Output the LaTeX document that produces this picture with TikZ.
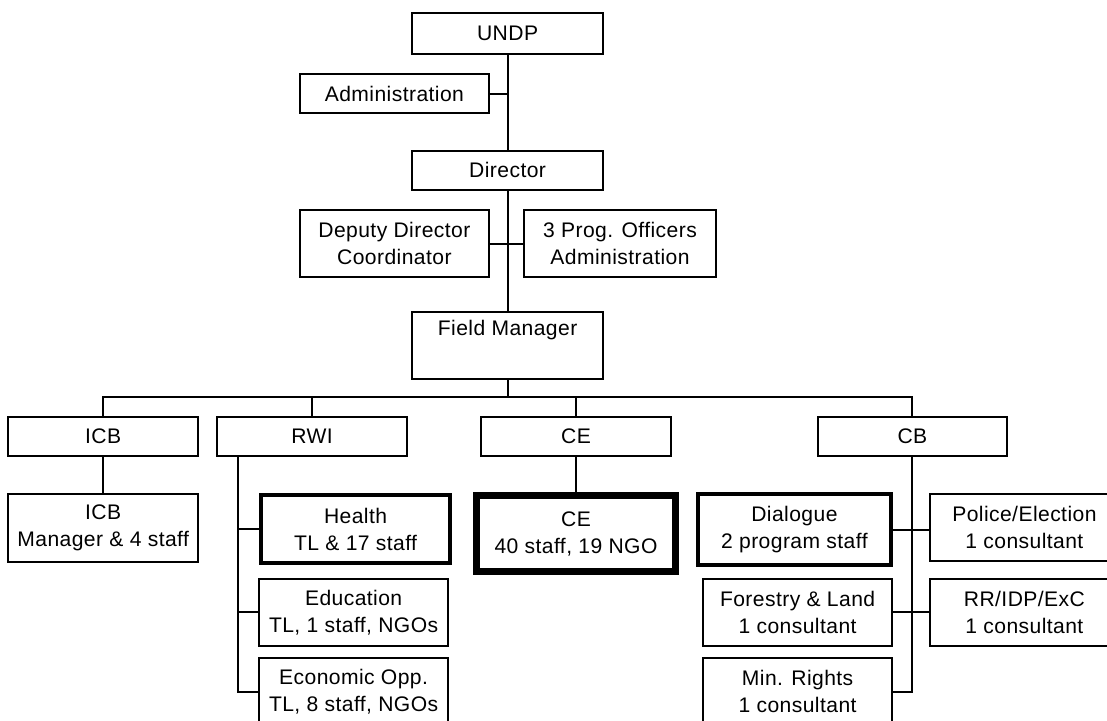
\documentclass[tikz,border=0pt]{standalone}
\usepackage{fontspec}
\setmainfont[LetterSpace=2]{Liberation Sans}
\usetikzlibrary{positioning, calc}

\tikzset{
  unit/.style={draw, line width=1.4pt, align=center, inner sep=0pt,
    minimum width=4.73cm, minimum height=0.98cm,
    font=\fontsize{15}{19.2}\selectfont},
  tallunit/.style={unit, minimum height=1.68cm},
  leadunit/.style={tallunit, line width=2.6pt, minimum height=1.7cm},
  link/.style={line width=1.4pt},
}

\begin{document}
\begin{tikzpicture}
  \useasboundingbox (0,0) rectangle (27.675,-18.025);
  \clip (0,0) rectangle (27.675,-18.025);

  % top of the chart
  \node[unit, minimum width=4.78cm, minimum height=1.03cm] (undp) at (12.69,-0.84) {UNDP};
  \node[unit] (admin) at (9.86,-2.34) {Administration};
  \node[unit, minimum width=4.78cm] (director) at (12.69,-4.26) {Director};
  \node[tallunit] (deputy) at (9.86,-6.09) {Deputy Director\\Coordinator};
  \node[tallunit, minimum width=4.8cm] (progoff) at (15.5,-6.09) {3 Prog. Officers\\Administration};
  \node[tallunit, minimum width=4.78cm] (field) at (12.69,-8.64) {Field Manager\\\strut};

  \coordinate (bus) at (0,-9.93);

  % programme units
  \node[unit, minimum width=4.75cm] (icb) at (2.58,-10.91) {ICB};
  \node[unit, minimum width=4.75cm] (rwi) at (7.8,-10.91) {RWI};
  \node[unit, minimum width=4.75cm] (ce) at (14.4,-10.91) {CE};
  \node[unit] (cb) at (22.81,-10.91) {CB};

  % teams
  \node[tallunit, minimum width=4.75cm, minimum height=1.7cm] (icbteam) at (2.58,-13.2) {ICB\\Manager \& 4 staff};
  \node[leadunit] (health) at (8.89,-13.23) {Health\\TL \& 17 staff};
  \node[tallunit] (educ) at (8.84,-15.31) {Education\\TL, 1 staff, NGOs};
  \node[tallunit] (econ) at (8.84,-17.29) {Economic Opp.\\TL, 8 staff, NGOs};
  \node[leadunit, line width=5pt, minimum width=4.98cm, minimum height=1.9cm] (ceteam) at (14.4,-13.34) {CE\\40 staff, 19 NGO};
  \node[leadunit, minimum width=4.83cm, minimum height=1.78cm] (dialogue) at (19.86,-13.24) {Dialogue\\2 program staff};
  \node[tallunit] (forest) at (19.94,-15.31) {Forestry \& Land\\1 consultant};
  \node[tallunit] (minr) at (19.94,-17.29) {Min. Rights\\1 consultant};
  \node[tallunit] (police) at (25.61,-13.19) {Police/Election\\1 consultant};
  \node[tallunit] (rrid) at (25.61,-15.31) {RR/IDP/ExC\\1 consultant};

  % lines
  \draw[link] (undp) -- (director);
  \draw[link] (admin.east) -- (admin.east -| undp.south);
  \draw[link] (director) -- (field);
  \draw[link] (deputy) -- (progoff);
  \draw[link] (field.south) -- (field.south |- bus);
  \draw[link] (icb.north) |- (bus -| cb.north) -- (cb.north);
  \draw[link] (rwi.north) -- (rwi.north |- bus);
  \draw[link] (ce.north) -- (ce.north |- bus);
  \draw[link] (icb) -- (icbteam);
  \draw[link] (ce) -- (ceteam);
  \coordinate (rwitrunk) at ([xshift=0.55cm]rwi.south west);
  \draw[link] (rwitrunk) |- (econ.west);
  \draw[link] (health.west) -- (health.west -| rwitrunk);
  \draw[link] (educ.west) -- (educ.west -| rwitrunk);
  \draw[link] (cb.south) |- (minr.east);
  \draw[link] (dialogue.east) -- (dialogue.east -| police.west);
  \draw[link] (forest) -- (rrid);
\end{tikzpicture}
\end{document}
